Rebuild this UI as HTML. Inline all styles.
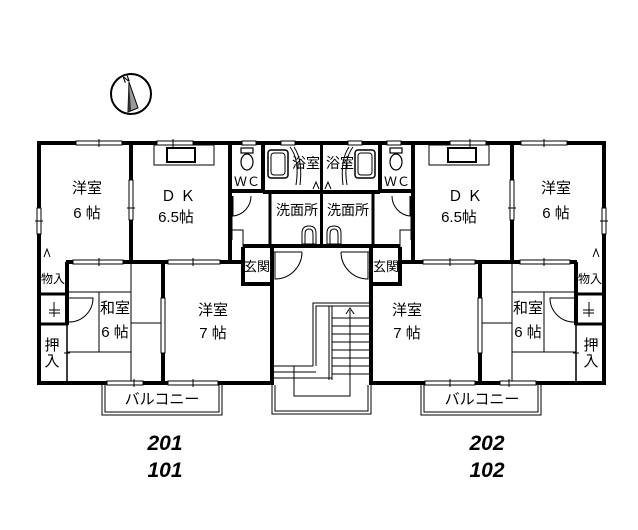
<!DOCTYPE html>
<html><head><meta charset="utf-8"><style>
html,body{margin:0;padding:0;background:#fff;}
svg{display:block}
text{font-family:"Liberation Sans","Noto Sans CJK JP",sans-serif;fill:#000}
</style></head><body>
<svg width="638" height="530" viewBox="0 0 638 530" xmlns="http://www.w3.org/2000/svg">
<defs>
<g id="unit" fill="none" stroke="#000">
  <path d="M37 143 H322" stroke-width="4"/>
  <path d="M39 143 V383" stroke-width="4"/>
  <path d="M37 383 H274" stroke-width="4"/>
  <rect x="76" y="141" width="46" height="4" fill="#fff" stroke="#000" stroke-width="1"/>
  <line x1="99" y1="139" x2="99" y2="147" stroke-width="1"/>
  <rect x="157" y="141" width="36" height="4" fill="#fff" stroke="#000" stroke-width="1"/>
  <line x1="173" y1="139" x2="173" y2="147" stroke-width="1"/>
  <rect x="242" y="141" width="14" height="4" fill="#fff" stroke="#000" stroke-width="1"/>
  <rect x="281" y="141" width="14" height="4" fill="#fff" stroke="#000" stroke-width="1"/>
  <rect x="37" y="208" width="4" height="26" fill="#fff" stroke="#000" stroke-width="1"/>
  <line x1="35" y1="221" x2="43" y2="221" stroke-width="1"/>
  <path d="M131 143 V262" stroke-width="4"/>
  <rect x="129" y="180" width="4" height="40" fill="#fff" stroke="#000" stroke-width="1"/>
  <line x1="127" y1="208" x2="135" y2="208" stroke-width="1"/>
  <path d="M230 143 V263" stroke-width="4"/>
  <path d="M66 262 H245" stroke-width="4"/>
  <rect x="73" y="260" width="50" height="4" fill="#fff" stroke="#000" stroke-width="1"/>
  <line x1="99" y1="258" x2="99" y2="266" stroke-width="1"/>
  <rect x="168" y="260" width="52" height="4" fill="#fff" stroke="#000" stroke-width="1"/>
  <line x1="193" y1="258" x2="193" y2="266" stroke-width="1"/>
  <rect x="154" y="145" width="60" height="20" stroke-width="1"/>
  <rect x="167" y="148" width="28" height="14" stroke-width="2"/>
  <path d="M263 143 V192 M230 191 H265" stroke-width="4"/>
  <ellipse cx="247" cy="162" rx="6" ry="8" stroke-width="1.2"/>
  <rect x="241" y="148" width="12" height="5" stroke-width="1.2"/>
  <path d="M233 196 V216 A20 20 0 0 0 251 196" stroke-width="1"/>
  <line x1="232" y1="196" x2="232" y2="240" stroke-width="1"/>
  <path d="M230 200 V240" stroke-width="1" stroke-dasharray="2 1"/>
  <path d="M232 230 H243 V247" stroke-width="1"/>
  <path d="M263 192 H322" stroke-width="4"/>
  <rect x="268" y="150" width="20" height="28" rx="3" stroke-width="1.5"/>
  <rect x="271" y="153" width="14" height="22" rx="3" stroke-width="1"/>
  <path d="M290 147 Q300 160 296 185" stroke-width="1"/>
  <path d="M294 147 Q303 160 300 185" stroke-width="1"/>
  <path d="M322 143 V192" stroke-width="2"/>
  <path d="M270 192 V247" stroke-width="3"/>
  <path d="M243 246 H322" stroke-width="4"/>
  <path d="M322 192 V247" stroke-width="2"/>
  <path d="M302 244 V233 Q302 226 309 226 Q316 226 316 233 V244 Z" stroke-width="1"/>
  <path d="M305 244 V234 Q305 229 309 229 Q313 229 313 234 V244" stroke-width="1"/>
  <path d="M243 247 V284 H272" stroke-width="4"/>
  <path d="M272 247 V383" stroke-width="4"/>
  <path d="M275 252 V279 A27 27 0 0 0 302 252" stroke-width="1"/>
  <line x1="274" y1="252" x2="302" y2="252" stroke-width="1"/>
  <path d="M67 262 V325" stroke-width="4"/>
  <path d="M67 325 V383" stroke-width="1.5"/>
  <line x1="64" y1="353" x2="70" y2="353" stroke-width="1"/>
  <path d="M37 294 H68 M37 324 H68" stroke-width="3"/>
  <line x1="49" y1="310" x2="60" y2="310" stroke-width="1"/>
  <line x1="49" y1="313" x2="60" y2="313" stroke-width="1"/>
  <line x1="54" y1="302" x2="54" y2="317" stroke-width="1"/>
  <path d="M44 257 L47 249 L50 257" stroke-width="1"/>
  <path d="M69 298 H93 A24 24 0 0 1 69 322" stroke-width="1"/>
  <path d="M131 262 V383" stroke-width="1"/>
  <path d="M99 292 V352 M67 292 H131 M67 352 H131 M131 323 H163" stroke-width="1"/>
  <path d="M163 262 V383" stroke-width="4"/>
  <rect x="161" y="298" width="4" height="55" fill="#fff" stroke="#000" stroke-width="1"/>
  <rect x="107" y="381" width="36" height="4" fill="#fff" stroke="#000" stroke-width="1"/>
  <line x1="134" y1="379" x2="134" y2="387" stroke-width="1"/>
  <rect x="168" y="381" width="50" height="4" fill="#fff" stroke="#000" stroke-width="1"/>
  <line x1="193" y1="379" x2="193" y2="387" stroke-width="1"/>
  <path d="M102 385 V415 H222 V385" stroke-width="1"/>
  <path d="M105 385 V412 H219 V385" stroke-width="1"/>
  <path d="M272 383 V414 H322" stroke-width="1"/>
  <path d="M275 385 V411 H322" stroke-width="1"/>
</g>
</defs>
<use href="#unit"/>
<use href="#unit" transform="translate(643,0) scale(-1,1)"/>
<g fill="none" stroke="#000" stroke-width="1">
  <path d="M313 366 V303 H372"/>
  <path d="M316 366 V306 H372"/>
  <path d="M329 306 V380 M332 306 V380"/>
  <path d="M332 318 H372 M332 326 H372 M332 334 H372 M332 342 H372 M332 350 H372 M332 358 H372 M332 366 H372 M332 374 H372"/>
  <path d="M274 366 H313 M274 372 H316 M274 378 H332"/>
  <path d="M294 366 V396 H350 V310"/>
  <path d="M346 314 L350 308 L354 314"/>
</g>
<circle cx="131" cy="94" r="20" fill="none" stroke="#000" stroke-width="2"/>
<polygon points="129,82 128,112 138,108" fill="#999" stroke="#000" stroke-width="1"/>
<polygon points="129,82 128,112 131,110" fill="#333"/>
<text x="123" y="82" font-size="9" font-weight="bold" transform="rotate(-20 127 79)">N</text>
<g font-size="15" text-anchor="middle">
  <text x="87" y="193">洋室</text><text x="87" y="218">6 帖</text>
  <text x="178" y="201">Ｄ Ｋ</text><text x="176" y="222">6.5帖</text>
  <text x="247" y="186" font-size="13">ＷＣ</text>
  <text x="306" y="168" font-size="14">浴室</text>
  <text x="297" y="215" font-size="14">洗面所</text>
  <text x="257" y="271" font-size="13">玄関</text>
  <text x="53" y="283" font-size="12">物入</text>
  <text x="115" y="313">和室</text><text x="115" y="337">6 帖</text>
  <text x="213" y="315">洋室</text><text x="213" y="338">7 帖</text>
  <text x="52" y="350">押</text><text x="52" y="366">入</text>
  <text x="162" y="404">バルコニー</text>

  <text x="556" y="193">洋室</text><text x="556" y="218">6 帖</text>
  <text x="465" y="201">Ｄ Ｋ</text><text x="459" y="222">6.5帖</text>
  <text x="397" y="186" font-size="13">ＷＣ</text>
  <text x="340" y="168" font-size="14">浴室</text>
  <text x="348" y="215" font-size="14">洗面所</text>
  <text x="386" y="271" font-size="13">玄関</text>
  <text x="590" y="283" font-size="12">物入</text>
  <text x="528" y="313">和室</text><text x="528" y="337">6 帖</text>
  <text x="407" y="315">洋室</text><text x="407" y="338">7 帖</text>
  <text x="591" y="350">押</text><text x="591" y="366">入</text>
  <text x="482" y="404">バルコニー</text>
</g>
<g font-size="21" font-weight="bold" text-anchor="middle" font-style="italic">
  <text x="165" y="450">201</text><text x="165" y="477">101</text>
  <text x="487" y="450">202</text><text x="487" y="477">102</text>
</g>
<g fill="none" stroke="#000" stroke-width="1">
  <path d="M313 189 L316 182 L319 189 M325 189 L328 182 L331 189"/>
</g>
</svg>
</body></html>
